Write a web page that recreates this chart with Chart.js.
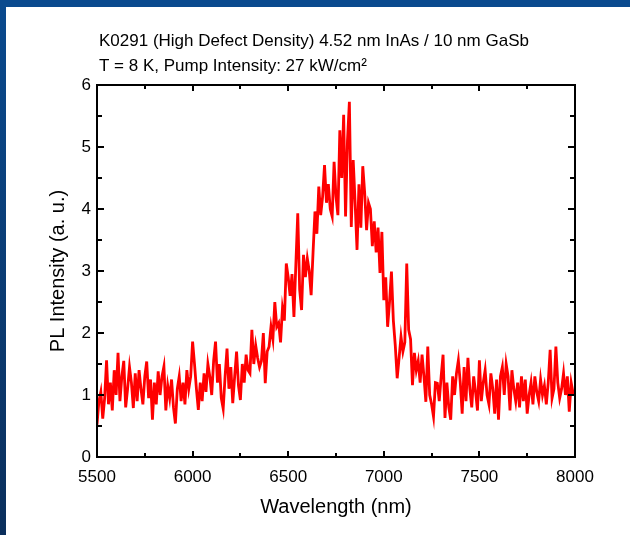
<!DOCTYPE html>
<html>
<head>
<meta charset="utf-8">
<script src="https://cdn.jsdelivr.net/npm/chart.js@4.4.1/dist/chart.umd.min.js"></script>
<style>
  html, body { margin: 0; padding: 0; background: #ffffff; }
  #wrap { position: absolute; left: 0; top: 0; width: 630px; height: 535px; }
</style>
</head>
<body>
<div id="wrap"><canvas id="c" width="630" height="535"></canvas></div>
<script>
// ---- Data ----
const titleLine1 = "K0291 (High Defect Density) 4.52 nm InAs / 10 nm GaSb";
const titleLine2 = "T = 8 K, Pump Intensity: 27 kW/cm\u00B2";
const xAxisTitle = "Wavelength (nm)";
const yAxisTitle = "PL Intensity (a. u.)";

const wavelengths = [
  5500,5510,5520,5530,5540,5550,5560,5570,5580,5590,
  5600,5610,5620,5630,5640,5650,5660,5670,5680,5690,
  5700,5710,5720,5730,5740,5750,5760,5770,5780,5790,
  5800,5810,5820,5830,5840,5850,5860,5870,5880,5890,
  5900,5910,5920,5930,5940,5950,5960,5970,5980,5990,
  6000,6010,6020,6030,6040,6050,6060,6070,6080,6090,
  6100,6110,6120,6130,6140,6150,6160,6170,6180,6190,
  6200,6210,6220,6230,6240,6250,6260,6270,6280,6290,
  6300,6310,6320,6330,6340,6350,6360,6370,6380,6390,
  6400,6410,6420,6430,6440,6450,6460,6470,6480,6490,
  6500,6510,6520,6530,6540,6550,6560,6570,6580,6590,
  6600,6610,6620,6630,6640,6650,6660,6670,6680,6690,
  6700,6710,6720,6730,6740,6750,6760,6770,6780,6790,
  6800,6810,6820,6830,6840,6850,6860,6870,6880,6890,
  6900,6910,6920,6930,6940,6950,6960,6970,6980,6990,
  7000,7010,7020,7030,7040,7050,7060,7070,7080,7090,
  7100,7110,7120,7130,7140,7150,7160,7170,7180,7190,
  7200,7210,7220,7230,7240,7250,7260,7270,7280,7290,
  7300,7310,7320,7330,7340,7350,7360,7370,7380,7390,
  7400,7410,7420,7430,7440,7450,7460,7470,7480,7490,
  7500,7510,7520,7530,7540,7550,7560,7570,7580,7590,
  7600,7610,7620,7630,7640,7650,7660,7670,7680,7690,
  7700,7710,7720,7730,7740,7750,7760,7770,7780,7790,
  7800,7810,7820,7830,7840,7850,7860,7870,7880,7890,
  7900,7910,7920,7930,7940,7950,7960,7970,7980,7990,
  8000
];

const plIntensity = [
  0.52,0.90,1.05,0.62,0.95,1.56,0.85,1.20,0.75,1.40,
  1.00,1.68,0.90,1.30,1.55,0.80,1.10,1.45,1.20,0.79,
  1.35,0.90,1.40,1.10,0.85,1.30,1.54,0.95,1.25,0.60,
  1.20,0.85,1.38,1.00,1.30,1.46,0.75,1.15,0.95,1.25,
  0.80,0.54,1.10,1.30,0.90,1.20,0.85,1.40,1.10,1.30,
  1.86,1.50,1.10,0.76,1.20,0.90,1.35,1.05,1.50,1.30,
  1.00,1.55,1.86,1.20,1.50,0.95,0.78,1.30,1.75,1.10,
  1.45,0.87,1.30,1.70,1.15,0.92,1.50,1.20,1.65,1.40,
  1.35,2.05,1.50,1.80,1.60,1.45,1.55,2.00,1.19,1.70,
  1.78,2.10,1.90,2.50,2.10,2.16,1.85,2.40,2.20,3.12,
  2.90,2.60,2.95,2.26,3.10,3.93,2.70,2.37,3.26,2.90,
  3.20,3.00,2.61,3.30,3.96,3.60,4.36,3.90,4.20,4.71,
  4.10,4.40,4.00,3.88,4.76,4.20,3.90,5.27,4.50,5.52,
  3.88,5.10,5.73,3.71,4.79,4.10,3.34,4.40,3.70,4.69,
  4.26,3.66,4.10,4.00,3.40,3.80,3.30,3.70,2.97,3.63,
  2.53,2.90,2.10,2.50,2.99,2.20,1.80,1.27,1.60,1.94,
  1.70,1.85,3.12,2.05,1.90,1.16,1.68,1.40,1.55,1.20,
  1.65,1.30,0.89,1.78,1.00,0.85,0.65,1.20,1.19,0.90,
  1.30,1.65,0.63,1.20,0.80,0.60,1.30,1.00,1.35,1.56,
  1.20,0.70,1.45,0.90,1.60,1.10,0.80,1.30,1.05,0.75,
  1.56,0.90,1.20,1.40,1.00,0.85,1.35,1.10,0.70,1.25,
  0.60,1.30,1.45,1.00,1.50,1.30,0.75,1.40,1.10,0.90,
  1.20,0.80,1.30,0.90,1.25,0.70,1.00,1.20,0.85,1.30,
  1.05,0.90,1.25,1.00,1.15,0.85,1.20,1.73,0.95,1.10,
  1.78,1.20,0.95,1.10,1.35,1.00,1.30,0.73,1.20,1.03,
  1.05
];

const xMin = 5500, xMax = 8000, xMajor = 500, xMinor = 250;
const yMin = 0, yMax = 6, yMajor = 1, yMinor = 0.5;

const FONT = "'Liberation Sans', Arial, Helvetica, sans-serif";

const points = wavelengths.map((w, i) => ({ x: w, y: plIntensity[i] }));

// Background: blue border (top & left), white panel
const backgroundPlugin = {
  id: 'bg',
  beforeDraw(chart) {
    const ctx = chart.ctx;
    const W = chart.width, H = chart.height;
    ctx.save();
    const g = ctx.createLinearGradient(0, 0, 0, H);
    g.addColorStop(0, '#0a4a8e');
    g.addColorStop(1, '#0b2f5c');
    ctx.fillStyle = g;
    ctx.fillRect(0, 0, W, H);
    ctx.fillStyle = '#0a4a8e';
    ctx.fillRect(0, 0, W, 7);
    ctx.fillStyle = '#ffffff';
    ctx.fillRect(6, 7, W - 6, H - 7);
    ctx.restore();
  }
};

// Frame, inward ticks on all sides, titles
const framePlugin = {
  id: 'frame',
  afterDraw(chart) {
    const ctx = chart.ctx;
    const a = chart.chartArea;
    const xs = chart.scales.x, ys = chart.scales.y;
    ctx.save();
    ctx.strokeStyle = '#000';
    ctx.lineWidth = 2;
    ctx.lineCap = 'butt';
    ctx.beginPath();
    for (let v = xMin; v <= xMax + 1e-6; v += xMinor) {
      const px = Math.round(xs.getPixelForValue(v));
      const major = Math.abs((v - xMin) % xMajor) < 1e-6;
      const len = major ? 6 : 4;
      ctx.moveTo(px, a.bottom); ctx.lineTo(px, a.bottom - len);
      ctx.moveTo(px, a.top); ctx.lineTo(px, a.top + len);
    }
    for (let v = yMin; v <= yMax + 1e-6; v += yMinor) {
      const py = Math.round(ys.getPixelForValue(v));
      const major = Math.abs((v - yMin) % yMajor) < 1e-6;
      const len = major ? 7 : 5;
      ctx.moveTo(a.left, py); ctx.lineTo(a.left + len, py);
      ctx.moveTo(a.right, py); ctx.lineTo(a.right - len, py);
    }
    ctx.stroke();
    ctx.strokeRect(a.left, a.top, a.right - a.left, a.bottom - a.top);

    // titles
    ctx.fillStyle = '#000';
    ctx.textAlign = 'left';
    ctx.textBaseline = 'alphabetic';
    ctx.font = '17px ' + FONT;
    ctx.fillText(titleLine1, 99, 46, 435);
    ctx.fillText(titleLine2, 99, 71, 271);

    // axis titles
    ctx.font = '20px ' + FONT;
    ctx.textAlign = 'center';
    ctx.fillText(xAxisTitle, (a.left + a.right) / 2, 513);
    ctx.save();
    ctx.translate(64, (a.top + a.bottom) / 2);
    ctx.rotate(-Math.PI / 2);
    ctx.fillText(yAxisTitle, 0, 0);
    ctx.restore();
    ctx.restore();
  }
};

new Chart(document.getElementById('c'), {
  type: 'line',
  data: {
    datasets: [{
      data: points,
      borderColor: '#ff0000',
      borderWidth: 2.8,
      pointRadius: 0,
      tension: 0,
      fill: false
    }]
  },
  options: {
    responsive: false,
    animation: false,
    parsing: false,
    layout: { padding: { left: 0, top: 85, right: 55, bottom: 0 } },
    plugins: { legend: { display: false }, tooltip: { enabled: false }, title: { display: false } },
    scales: {
      x: {
        type: 'linear', min: xMin, max: xMax,
        grid: { display: false, drawTicks: false },
        border: { display: false },
        ticks: {
          stepSize: xMajor, color: '#000', font: { family: FONT, size: 17 }, padding: 10,
          maxRotation: 0, autoSkip: false,
          callback: (v) => String(v)
        },
        afterFit(s) { s.height = 78; }
      },
      y: {
        type: 'linear', min: yMin, max: yMax,
        grid: { display: false, drawTicks: false },
        border: { display: false },
        ticks: { stepSize: yMajor, color: '#000', font: { family: FONT, size: 17 }, padding: 6,
          callback: (v) => String(v) },
        afterFit(s) { s.width = 97; }
      }
    }
  },
  plugins: [backgroundPlugin, framePlugin]
});
</script>
</body>
</html>
